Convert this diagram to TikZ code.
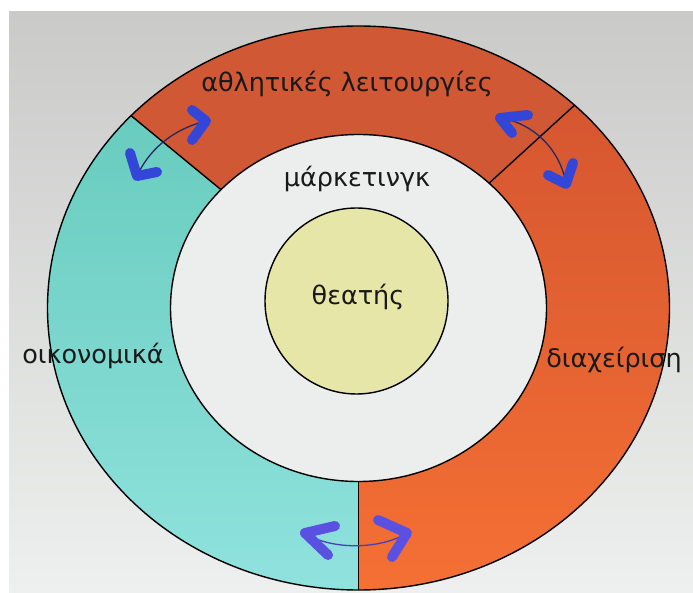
\documentclass[tikz,border=0pt]{standalone}
\usepackage{fontspec}
\setmainfont{DejaVu Sans}
\usetikzlibrary{calc,shapes.geometric}
\definecolor{bgtop}{RGB}{202,202,201}
\definecolor{bgbot}{RGB}{237,240,238}
\definecolor{topseg}{RGB}{208,88,52}
\definecolor{rsegtop}{RGB}{214,86,48}
\definecolor{rsegbot}{RGB}{244,112,52}
\definecolor{lsegtop}{RGB}{104,204,190}
\definecolor{lsegbot}{RGB}{144,226,222}
\definecolor{ringwhite}{RGB}{236,237,237}
\definecolor{core}{RGB}{230,230,168}
\definecolor{headblue}{RGB}{52,70,215}
\definecolor{headviolet}{RGB}{90,80,225}
\definecolor{shaftnavy}{RGB}{40,40,100}
\tikzset{
  outline/.style={draw=black, line width=1.4pt},
  lbl/.style={font=\fontsize{25.5}{28}\selectfont, text=black!90, inner sep=0pt},
  ahead/.style={line width=10pt, line cap=round, line join=round},
  shaft/.style={line width=1.3pt, draw=shaftnavy},
}
\begin{document}
\begin{tikzpicture}[x=1pt,y=1pt]
\useasboundingbox (0,0) rectangle (693,592);
% background
\fill[white] (0,0) rectangle (693,592);
\shade[top color=bgtop, bottom color=bgbot] (9,0) rectangle (693,580);
% geometry
\coordinate (C) at (358.5,284);
\def\RX{311}\def\RY{282}\def\rx{188}\def\ry{173.5}
% left (teal) segment
\shade[top color=lsegtop, bottom color=lsegbot]
  ($(C)+(137:\RX pt and \RY pt)$) arc[start angle=137, end angle=270, x radius=\RX, y radius=\RY]
  -- ($(C)+(270:\rx pt and \ry pt)$) arc[start angle=270, end angle=137, x radius=\rx, y radius=\ry] -- cycle;
% top segment
\fill[topseg]
  ($(C)+(46:\RX pt and \RY pt)$) arc[start angle=46, end angle=137, x radius=\RX, y radius=\RY]
  -- ($(C)+(137:\rx pt and \ry pt)$) arc[start angle=137, end angle=46, x radius=\rx, y radius=\ry] -- cycle;
% right segment
\shade[top color=rsegtop, bottom color=rsegbot]
  ($(C)+(-90:\RX pt and \RY pt)$) arc[start angle=-90, end angle=46, x radius=\RX, y radius=\RY]
  -- ($(C)+(46:\rx pt and \ry pt)$) arc[start angle=46, end angle=-90, x radius=\rx, y radius=\ry] -- cycle;
% outlines
\draw[outline] (C) ellipse[x radius=\RX, y radius=\RY];
\filldraw[outline, fill=ringwhite] (C) ellipse[x radius=\rx, y radius=\ry];
\draw[outline] ($(C)+(137:\RX pt and \RY pt)$) -- ($(C)+(137:\rx pt and \ry pt)$);
\draw[outline] ($(C)+(46:\RX pt and \RY pt)$) -- ($(C)+(46:\rx pt and \ry pt)$);
\draw[outline] ($(C)+(270:\RX pt and \RY pt)$) -- ($(C)+(270:\rx pt and \ry pt)$);
% core
\node[ellipse, outline, fill=core, minimum width=183pt, minimum height=186pt, inner sep=0pt] (core) at (356.5,291) {};
% labels
\node[lbl] (theat) at (358,295) {θεατής};
\node[lbl] (mark) at (357,413) {μάρκετινγκ};
\node[lbl] (athl) at (347,508) {αθλητικές λειτουργίες};
\node[lbl] (oik) at (93,236) {οικονομικά};
\node[lbl] (diax) at (614,232) {διαχείριση};
% top-left arrow
\coordinate (tlA) at (137,416);
\coordinate (tlB) at (206,471);
\draw[shaft] (tlA) .. controls (148,440) and (170,462) .. (tlB);
\draw[ahead, draw=headblue] (130,439) -- (tlA) -- (157,420);
\draw[ahead, draw=headblue] (192,482) -- (tlB) -- (192,452);
% top-right arrow
\coordinate (trA) at (500,474);
\coordinate (trB) at (566,408);
\draw[shaft] (trA) .. controls (530,470) and (560,445) .. (trB);
\draw[ahead, draw=headblue] (528,477) -- (trA) -- (512,459);
\draw[ahead, draw=headblue] (548,417) -- (trB) -- (573,429);
% bottom arrow
\coordinate (bA) at (305,59);
\coordinate (bB) at (407,59);
\draw[shaft, draw=headviolet!80!black] (bA) .. controls (330,42) and (380,42) .. (bB);
\draw[ahead, draw=headviolet] (335,66) -- (bA) -- (328,37);
\draw[ahead, draw=headviolet] (378,72) -- (bB) -- (392,35);
\end{tikzpicture}
\end{document}
